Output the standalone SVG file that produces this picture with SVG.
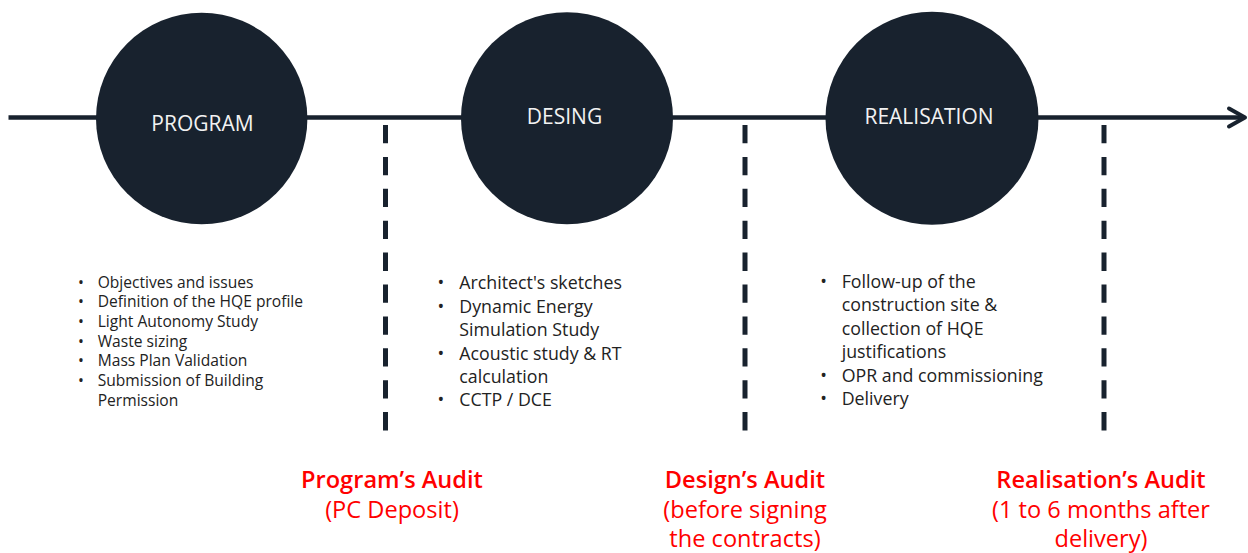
<svg xmlns="http://www.w3.org/2000/svg" width="1248" height="553" viewBox="0 0 1248 553">
<style>
.stage{fill:#18222e}
.stitle{font-family:"Open Sans","Noto Sans",sans-serif;font-size:21px;fill:#f2f2f2;text-anchor:middle}
.l1{font-family:"Open Sans","Noto Sans",sans-serif;font-size:15.6px;fill:#222}
.l2{font-family:"Open Sans","Noto Sans",sans-serif;font-size:17.8px;fill:#222}
.aud{font-family:"Open Sans","Noto Sans",sans-serif;fill:#ff0000;text-anchor:middle}
.audh{font-size:23.6px;font-weight:600}
.audt{font-size:23.6px}
.dash{stroke:#18222e;stroke-width:5;stroke-dasharray:18.3 13.6;fill:none}
</style>
<rect width="1248" height="553" fill="#ffffff"/>
<g id="connectors">
<line x1="8.5" y1="117.5" x2="1244" y2="117.5" stroke="#18222e" stroke-width="4.5"/>
<polyline points="1229,108.5 1245,117.5 1229,126.5" fill="none" stroke="#18222e" stroke-width="4" stroke-linecap="round" stroke-linejoin="round"/>
<line class="dash" x1="385.5" y1="125" x2="385.5" y2="431"/>
<line class="dash" x1="745" y1="125" x2="745" y2="431"/>
<line class="dash" x1="1104" y1="125" x2="1104" y2="431"/>
</g>
<g id="program">
<circle class="stage" cx="201.7" cy="118.5" r="105.7"/>
<text class="stitle" x="202.5" y="131">PROGRAM</text>
</g>
<g id="design">
<circle class="stage" cx="567" cy="118.3" r="106"/>
<text class="stitle" x="564.5" y="123.5">DESING</text>
</g>
<g id="realisation">
<circle class="stage" cx="932" cy="118.3" r="106.5"/>
<text class="stitle" x="929" y="123.5">REALISATION</text>
</g>
<g id="program-list" class="l1">
<text x="78" y="287.5">•</text><text x="97.7" y="287.5">Objectives and issues</text>
<text x="78" y="307.2">•</text><text x="97.7" y="307.2">Definition of the HQE profile</text>
<text x="78" y="326.9">•</text><text x="97.7" y="326.9">Light Autonomy Study</text>
<text x="78" y="346.6">•</text><text x="97.7" y="346.6">Waste sizing</text>
<text x="78" y="366.3">•</text><text x="97.7" y="366.3">Mass Plan Validation</text>
<text x="78" y="386">•</text><text x="97.7" y="386">Submission of Building</text>
<text x="97.7" y="405.7">Permission</text>
</g>
<g id="design-list" class="l2">
<text x="437.5" y="289.3">•</text><text x="459.3" y="289.3">Architect's sketches</text>
<text x="437.5" y="312.7">•</text><text x="459.3" y="312.7">Dynamic Energy</text>
<text x="459.3" y="336.1">Simulation Study</text>
<text x="437.5" y="359.5">•</text><text x="459.3" y="359.5">Acoustic study &amp; RT</text>
<text x="459.3" y="382.9">calculation</text>
<text x="437.5" y="406.3">•</text><text x="459.3" y="406.3">CCTP / DCE</text>
</g>
<g id="realisation-list" class="l2">
<text x="820.2" y="288">•</text><text x="841.7" y="288">Follow-up of the</text>
<text x="841.7" y="311.4">construction site &amp;</text>
<text x="841.7" y="334.8">collection of HQE</text>
<text x="841.7" y="358.2">justifications</text>
<text x="820.2" y="381.6">•</text><text x="841.7" y="381.6">OPR and commissioning</text>
<text x="820.2" y="405">•</text><text x="841.7" y="405">Delivery</text>
</g>
<g id="program-audit" class="aud">
<text class="audh" x="392" y="488">Program’s Audit</text>
<text class="audt" x="392" y="518">(PC Deposit)</text>
</g>
<g id="design-audit" class="aud">
<text class="audh" x="745" y="488">Design’s Audit</text>
<text class="audt" x="745" y="518">(before signing</text>
<text class="audt" x="745" y="547">the contracts)</text>
</g>
<g id="realisation-audit" class="aud">
<text class="audh" x="1101" y="488">Realisation’s Audit</text>
<text class="audt" x="1101" y="518">(1 to 6 months after</text>
<text class="audt" x="1101" y="547">delivery)</text>
</g>
</svg>
